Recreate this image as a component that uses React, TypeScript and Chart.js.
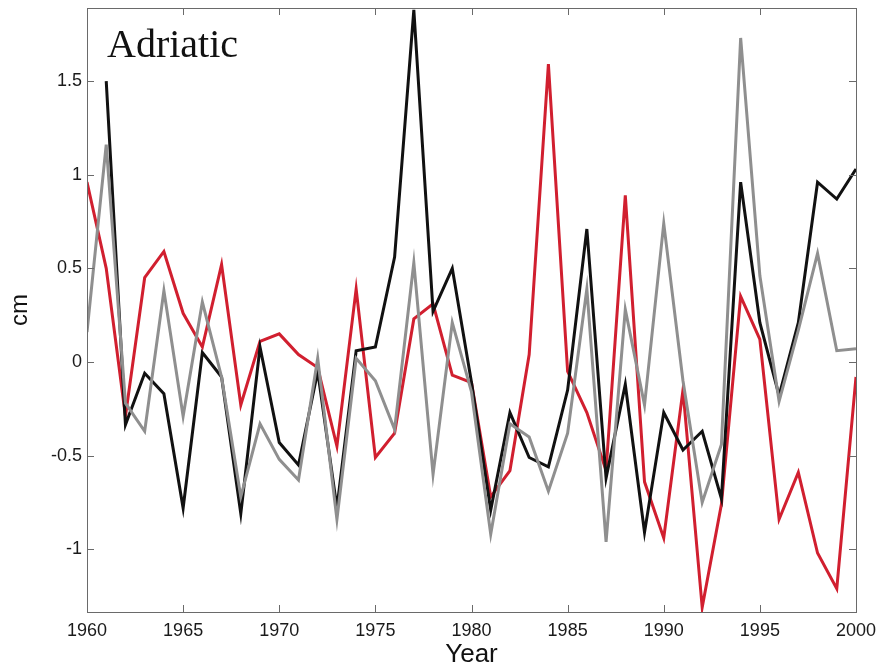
import React, { useEffect, useRef } from "react";
import { Chart, registerables } from "chart.js";

Chart.register(...registerables);

const years = [1960,1961,1962,1963,1964,1965,1966,1967,1968,1969,1970,1971,1972,1973,1974,1975,1976,1977,1978,1979,1980,1981,1982,1983,1984,1985,1986,1987,1988,1989,1990,1991,1992,1993,1994,1995,1996,1997,1998,1999,2000];

const blackSeries: (number | null)[] = [null,1.5,-0.335,-0.06,-0.17,-0.78,0.05,-0.08,-0.81,0.08,-0.43,-0.55,-0.05,-0.78,0.06,0.08,0.56,1.88,0.27,0.5,-0.11,-0.79,-0.27,-0.51,-0.56,-0.15,0.71,-0.62,-0.12,-0.91,-0.27,-0.47,-0.37,-0.73,0.96,0.21,-0.18,0.21,0.96,0.87,1.03];

const graySeries: number[] = [0.16,1.16,-0.22,-0.37,0.38,-0.29,0.32,-0.08,-0.72,-0.33,-0.52,-0.63,0.02,-0.84,0.02,-0.1,-0.36,0.53,-0.6,0.21,-0.16,-0.92,-0.33,-0.4,-0.69,-0.38,0.39,-0.96,0.28,-0.23,0.74,-0.1,-0.75,-0.44,1.73,0.46,-0.21,0.17,0.58,0.06,0.07];

const redSeries: number[] = [0.96,0.5,-0.29,0.45,0.59,0.26,0.08,0.52,-0.23,0.11,0.15,0.04,-0.03,-0.45,0.39,-0.51,-0.38,0.23,0.31,-0.07,-0.11,-0.72,-0.58,0.04,1.59,-0.05,-0.27,-0.58,0.89,-0.64,-0.94,-0.15,-1.31,-0.76,0.35,0.12,-0.84,-0.59,-1.02,-1.21,-0.08];

const xTicks = [1960,1965,1970,1975,1980,1985,1990,1995,2000];
const yTicks = [-1,-0.5,0,0.5,1,1.5];

const toPoints = (vals: (number | null)[]) => years.map((yr, i) => ({ x: yr, y: vals[i] }));

const frameTicks = {
  id: "frameTicks",
  afterDraw(chart: any) {
    const { ctx, chartArea } = chart;
    const { left, right, top, bottom } = chartArea;
    const xs = chart.scales.x;
    const ys = chart.scales.y;
    ctx.save();
    ctx.strokeStyle = "#6a6a6a";
    ctx.lineWidth = 1;
    ctx.beginPath();
    const len = 7;
    xTicks.forEach((v) => {
      const px = Math.round(xs.getPixelForValue(v)) + 0.5;
      ctx.moveTo(px, bottom);
      ctx.lineTo(px, bottom - len);
      ctx.moveTo(px, top);
      ctx.lineTo(px, top + len);
    });
    yTicks.forEach((v) => {
      const py = Math.round(ys.getPixelForValue(v)) + 0.5;
      ctx.moveTo(left, py);
      ctx.lineTo(left + len, py);
      ctx.moveTo(right, py);
      ctx.lineTo(right - len, py);
    });
    ctx.stroke();
    ctx.strokeRect(Math.round(left) + 0.5, Math.round(top) + 0.5, Math.round(right - left), Math.round(bottom - top));
    ctx.fillStyle = "#111";
    ctx.font = '40px "Liberation Serif", "DejaVu Serif", serif';
    ctx.textBaseline = "alphabetic";
    ctx.textAlign = "left";
    ctx.fillText("Adriatic", left + 20, top + 49);
    ctx.restore();
  },
};

export default function App() {
  const ref = useRef<HTMLCanvasElement | null>(null);
  useEffect(() => {
    if (!ref.current) return;
    const tickFont = { family: '"Liberation Sans", Arial, sans-serif', size: 18 };
    const chart = new Chart(ref.current, {
      type: "line",
      data: {
        datasets: [
          { label: "gray", data: toPoints(graySeries), borderColor: "#8f8f8f", borderWidth: 3, pointRadius: 0, tension: 0 },
          { label: "black", data: toPoints(blackSeries), borderColor: "#111111", borderWidth: 3, pointRadius: 0, tension: 0 },
          { label: "red", data: toPoints(redSeries), borderColor: "#d11f2f", borderWidth: 3, pointRadius: 0, tension: 0 },
        ],
      },
      options: {
        animation: false,
        responsive: false,
        maintainAspectRatio: false,
        layout: { padding: { top: 8, right: 26, left: 0, bottom: 0 } },
        plugins: { legend: { display: false }, tooltip: { enabled: false }, title: { display: false } },
        scales: {
          x: {
            type: "linear",
            min: 1960,
            max: 2000,
            grid: { display: false, drawTicks: false },
            border: { display: false },
            afterBuildTicks: (s: any) => { s.ticks = xTicks.map((v) => ({ value: v })); },
            afterFit: (s: any) => { s.height = 55; s.paddingLeft = 0; s.paddingRight = 0; },
            ticks: { color: "#1a1a1a", font: tickFont, padding: 8, maxRotation: 0, callback: (v: any) => String(v) },
            title: { display: true, text: "Year", color: "#111", font: { family: '"Liberation Sans", Arial, sans-serif', size: 26, lineHeight: 0.9 }, padding: { top: 0, bottom: 0 } },
          },
          y: {
            type: "linear",
            min: -1.335,
            max: 1.89,
            grid: { display: false, drawTicks: false },
            border: { display: false },
            afterBuildTicks: (s: any) => { s.ticks = yTicks.map((v) => ({ value: v })); },
            afterFit: (s: any) => { s.width = 87; s.paddingTop = 0; s.paddingBottom = 0; },
            ticks: { color: "#1a1a1a", font: tickFont, padding: 5, callback: (v: any) => String(v) },
            title: { display: true, text: "cm", color: "#111", font: { family: '"Liberation Sans", Arial, sans-serif', size: 24, lineHeight: 1 }, padding: { top: 8, bottom: 0 } },
          },
        },
      },
      plugins: [frameTicks],
    });
    return () => chart.destroy();
  }, []);
  return (
    <div style={{ position: "fixed", left: 0, top: 0, width: 882, height: 667, background: "#fff" }}>
      <canvas ref={ref} width={882} height={667} style={{ width: 882, height: 667, display: "block" }} />
    </div>
  );
}
